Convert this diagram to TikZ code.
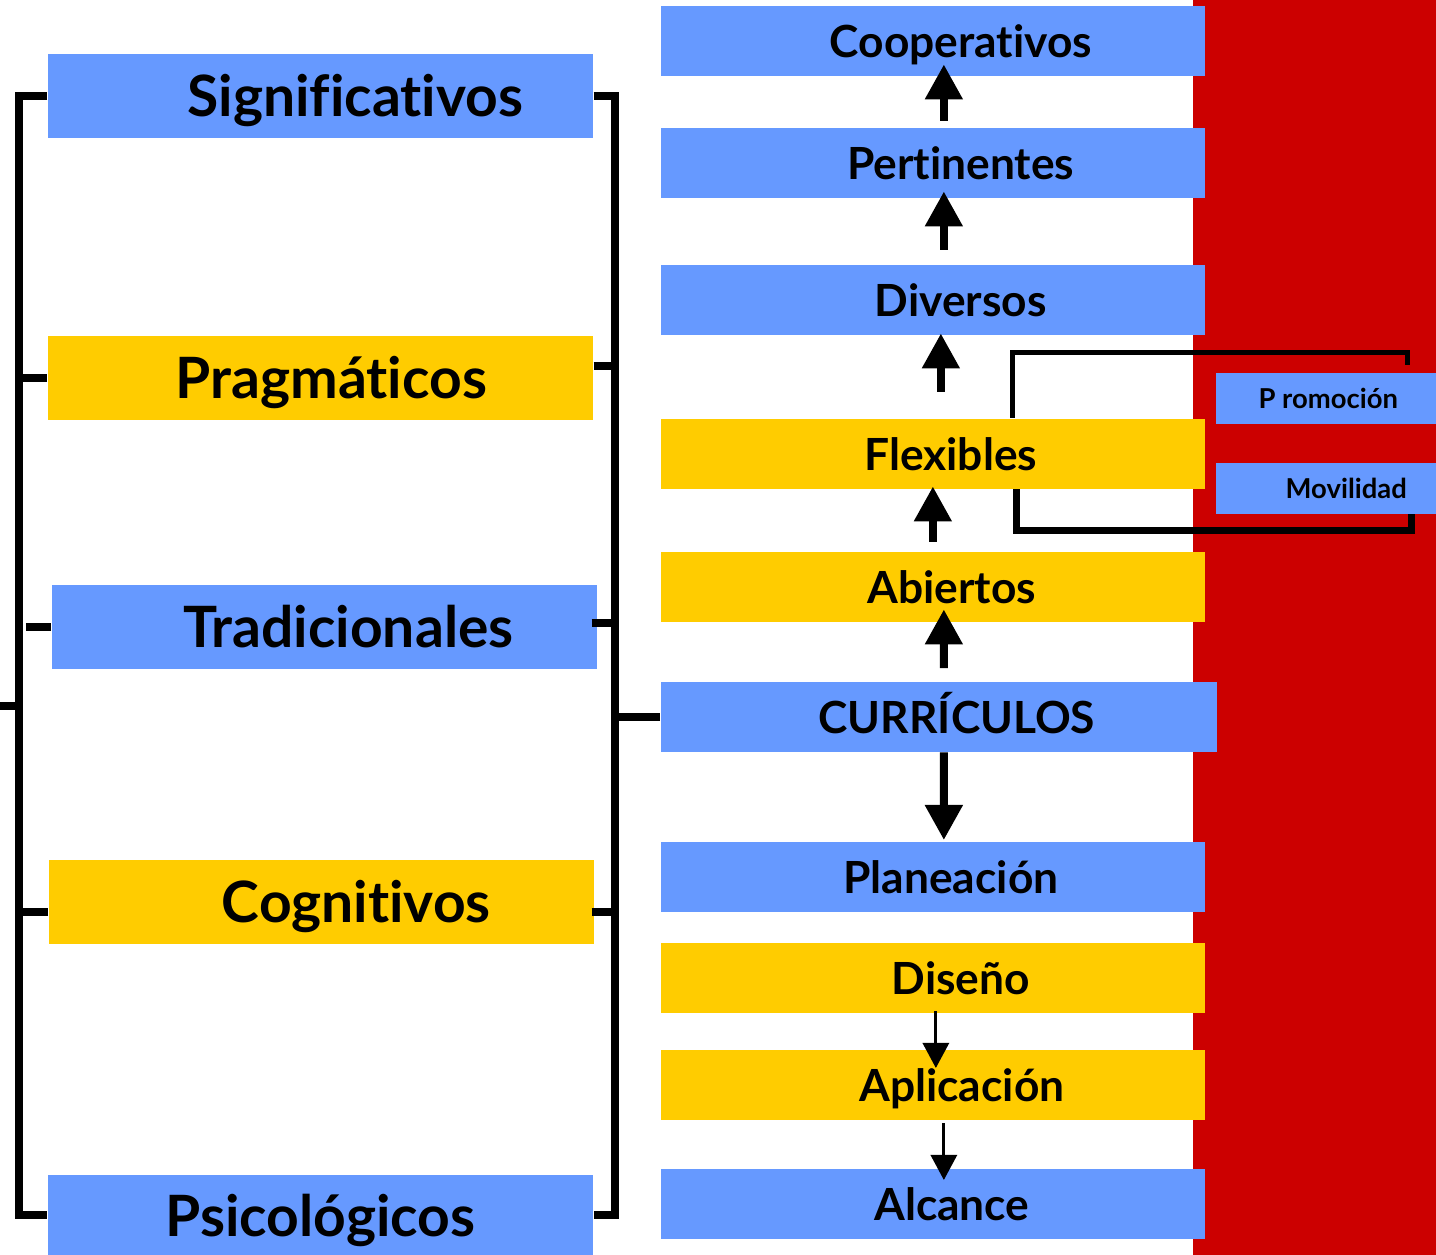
\documentclass[tikz,border=0pt]{standalone}
\usepackage{fontspec}
\setmainfont{Lato}[Ligatures=NoCommon]
\usetikzlibrary{calc,arrows.meta}
\definecolor{boxblue}{HTML}{6699FF}
\definecolor{boxyellow}{HTML}{FFCC00}
\definecolor{stripred}{HTML}{CC0000}
\tikzstyle{box}=[rectangle,inner sep=0pt,anchor=north west]
\tikzstyle{bluebox}=[box,fill=boxblue]
\tikzstyle{yellowbox}=[box,fill=boxyellow]
\tikzstyle{lbox}=[minimum width=5.45cm,minimum height=0.84cm]
\tikzstyle{rbox}=[minimum width=5.44cm,minimum height=0.70cm]
\tikzstyle{sbox}=[minimum width=2.21cm,minimum height=0.51cm]
\tikzstyle{ltext}=[anchor=base,inner sep=0pt,font=\fontsize{16.2}{19}\selectfont\bfseries]
\tikzstyle{rtext}=[anchor=base,inner sep=0pt,font=\fontsize{12.6}{15}\selectfont\bfseries]
\tikzstyle{stext}=[anchor=base,inner sep=0pt,font=\fontsize{7.8}{9}\selectfont\bfseries]
\tikzstyle{bracket}=[line width=0.08cm]
\tikzstyle{bigarrow}=[-{Triangle[width=0.36cm,length=0.35cm]},line width=0.08cm]
\tikzstyle{thinarrow}=[-{Triangle[width=0.26cm,length=0.25cm]},line width=0.03cm]

\begin{document}
\begin{tikzpicture}[x=0.01cm,y=-0.01cm]
  \useasboundingbox (0,0) rectangle (1436,1255);
  \coordinate (L) at (19,0);
  \coordinate (R) at (615,0);
  \coordinate (lend) at (0,706);

  % STRIP
  \fill[stripred] (1193,0) rectangle (1436,1255);

  % LEFT BOXES
  \node[bluebox,lbox]   (sig)  at (47,53)   {};
  \node[yellowbox,lbox] (prag) at (47,335)  {};
  \node[bluebox,lbox]   (trad) at (51,584)  {};
  \node[yellowbox,lbox] (cog)  at (48,859)  {};
  \node[bluebox,lbox,minimum height=0.81cm] (psi) at (47,1174) {};
  \node[ltext] (sigt)  at ($(sig.center)+(35,21)$)  {Significativos};
  \node[ltext] (pragt) at ($(prag.center)+(11,21)$) {Pragmáticos};
  \node[ltext] (tradt) at ($(trad.center)+(24,21)$) {Tradicionales};
  \node[ltext] (cogt)  at ($(cog.center)+(35,21)$)  {Cognitivos};
  \node[ltext] (psit)  at ($(psi.center)+(0,21)$)   {Psicológicos};

  % RIGHT BOXES
  \node[bluebox,rbox]   (coo)  at (660,5)    {};
  \node[bluebox,rbox]   (per)  at (660,127)  {};
  \node[bluebox,rbox]   (div)  at (660,264)  {};
  \node[yellowbox,rbox] (flex) at (660,418)  {};
  \node[yellowbox,rbox] (abi)  at (660,551)  {};
  \node[bluebox,rbox,minimum width=5.56cm] (cur) at (660,681) {};
  \node[bluebox,rbox]   (plan) at (660,841)  {};
  \node[yellowbox,rbox] (dis)  at (660,942)  {};
  \node[yellowbox,rbox] (apl)  at (660,1049) {};
  \node[bluebox,rbox]   (alc)  at (660,1168) {};
  \node[rtext] (coot)  at ($(coo.center)+(28,17)$)  {Cooperativos};
  \node[rtext] (pert)  at ($(per.center)+(28,17)$)  {Pertinentes};
  \node[rtext] (divt)  at ($(div.center)+(28,17)$)  {Diversos};
  \node[rtext] (flext) at ($(flex.center)+(18,17)$) {Flexibles};
  \node[rtext] (abit)  at ($(abi.center)+(19,17)$)  {Abiertos};
  \node[rtext] (curt)  at ($(cur.center)+(18,17)$)  {CURRÍCULOS};
  \node[rtext] (plant) at ($(plan.center)+(18,17)$) {Planeación};
  \node[rtext] (dist)  at ($(dis.center)+(28,17)$)  {Diseño};
  \node[rtext] (aplt)  at ($(apl.center)+(29,17)$)  {Aplicación};
  \node[rtext] (alct)  at ($(alc.center)+(19,17)$)  {Alcance};

  % SMALL BOXES
  \node[bluebox,sbox] (prom) at (1215,372) {};
  \node[bluebox,sbox] (mov)  at (1215,462) {};
  \node[stext] (promt) at ($(prom.center)+(2,10)$) {P romoción};
  \node[stext] (movt)  at ($(mov.center)+(20,10)$) {Movilidad};

  % BRACKETS
  \draw[bracket] (sig.west) -- (sig.west -| L) -- (psi.west -| L) -- (psi.west);
  \draw[bracket] (prag.west) -- ++(-28,0);
  \draw[bracket] (trad.west) -- ++(-25,0);
  \draw[bracket] ($(cog.west)+(0,10)$) -- ++(-29,0);
  \draw[bracket] (lend) -- ++(23,0);
  \draw[bracket] (sig.east) -- (sig.east -| R) -- (psi.east -| R) -- (psi.east);
  \draw[bracket] ($(prag.east)+(0,-12)$) -- ++(23,0);
  \draw[bracket] ($(trad.east)+(-6,-4)$) -- ++(25,0);
  \draw[bracket] ($(cog.east)+(-3,10)$) -- ++(25,0);
  \draw[bracket] (cur.west) -- (cur.west -| R);

  % ARROWS
  \draw[bigarrow] ($(per.north)+(11,-6)$)  -- ($(coo.south)+(11,-12)$);
  \draw[bigarrow] ($(div.north)+(11,-14)$) -- ($(per.south)+(11,-7)$);
  \draw[bigarrow] ($(flex.north)+(8,-26)$) -- ($(div.south)+(8,-2)$);
  \draw[bigarrow] ($(abi.north)+(0,-9)$)   -- ($(flex.south)+(0,-3)$);
  \draw[bigarrow] ($(cur.north)+(5,-13)$)  -- ($(abi.south)+(11,-13)$);
  \draw[bigarrow] ($(cur.south)+(5,0)$)    -- ($(plan.north)+(11,-1)$);
  \draw[thinarrow] ($(dis.south)+(3,-2)$)  -- ($(apl.north)+(3,19)$);
  \draw[thinarrow] ($(apl.south)+(11,3)$)  -- ($(alc.north)+(11,12)$);

  % PROMOCION / MOVILIDAD
  \draw[line width=0.05cm] ($(flex.north)+(80,0)$) -- ++(0,-65) -| ($(prom.north)+(81.5,-7)$);
  \draw[line width=0.07cm] ($(flex.south)+(84,0)$) -- ++(0,41) -| ($(mov.south)+(85.5,0)$);
\end{tikzpicture}
\end{document}
